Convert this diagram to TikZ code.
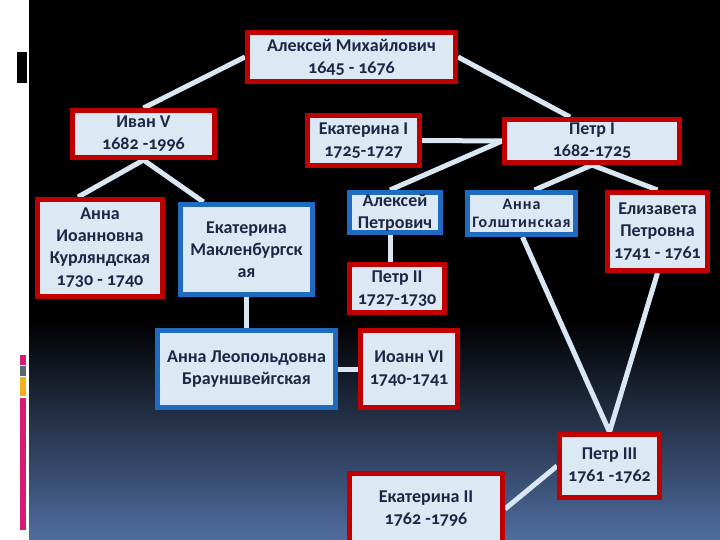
\documentclass[tikz,border=0pt]{standalone}
\usepackage{fontspec}
\setmainfont{Carlito}[Numbers=OldStyle]
\usetikzlibrary{backgrounds}
\definecolor{boxfill}{HTML}{DDE8F5}
\definecolor{redb}{HTML}{C00000}
\definecolor{blueb}{HTML}{1F6BBF}
\definecolor{txt}{HTML}{1A2745}
\definecolor{linkc}{HTML}{D9E6F4}
\definecolor{bgbot}{HTML}{4F6D9E}
\definecolor{barpink}{HTML}{D81B72}
\definecolor{bargray}{HTML}{5A6470}
\definecolor{baryellow}{HTML}{F2B21C}
\begin{document}
\begin{tikzpicture}[x=1pt,y=-1pt,
  person/.style={draw, line width=5pt, fill=boxfill, text=txt, align=center,
    inner sep=0pt, font=\fontsize{18}{22}\selectfont\bfseries},
  redbox/.style={person, draw=redb},
  bluebox/.style={person, draw=blueb},
  linkline/.style={draw=linkc, line width=5pt}]
\useasboundingbox (0,0) rectangle (720,540);
\clip (0,0) rectangle (720,540);
\begin{pgfonlayer}{background}
  \fill[white] (0,0) rectangle (29,540);
  \fill[black] (29,0) rectangle (720,322);
  \shade[top color=black, bottom color=bgbot] (29,321) rectangle (720,540);
  \fill[black] (17,52) rectangle (27,83);
  \fill[barpink] (20,355) rectangle (26,365);
  \fill[bargray] (20,366) rectangle (26,376);
  \fill[baryellow] (20,377) rectangle (26,396);
  \fill[barpink] (20,398) rectangle (26,530);
\end{pgfonlayer}

\node[redbox, minimum width=208, minimum height=49] (am) at (351.5,57) {Алексей Михайлович\\1645 - 1676};
\node[redbox, minimum width=142, minimum height=47] (ivan) at (143.5,134) {Иван V\\1682 -1996};
\node[redbox, minimum width=112, minimum height=50] (ek1) at (363.5,140.5) {Екатерина I\\1725-1727};
\node[redbox, minimum width=175, minimum height=43] (petr1) at (592,141) {Петр I\\1682-1725};
\node[redbox, minimum width=125, minimum height=97] (annai) at (100,248) {Анна\\Иоанновна\\Курляндская\\1730 - 1740};
\node[bluebox, minimum width=132, minimum height=90] (ekm) at (246.5,249.5) {Екатерина\\Макленбургск\\ая};
\node[bluebox, minimum width=91, minimum height=40] (alexp) at (395,212.5) {Алексей\\Петрович};
\node[redbox, minimum width=95, minimum height=48] (petr2) at (397,288.5) {Петр II\\1727-1730};
\node[bluebox, minimum width=108, minimum height=42, font=\fontsize{16}{18}\selectfont\bfseries\addfontfeature{LetterSpace=6}] (annag) at (521.5,213.5) {Анна\\Голштинская};
\node[redbox, minimum width=100, minimum height=78] (eliz) at (657.5,231.5) {Елизавета\\Петровна\\1741 - 1761};
\node[bluebox, minimum width=178, minimum height=77] (annal) at (246.5,369) {Анна Леопольдовна\\Брауншвейгская};
\node[redbox, minimum width=97, minimum height=77] (ioann) at (409,369) {Иоанн VI\\1740-1741};
\node[redbox, minimum width=100, minimum height=63] (petr3) at (609.5,466) {Петр III\\1761 -1762};
\node[redbox, minimum width=153, minimum height=72] (ek2) at (426,509) {Екатерина II\\1762 -1796};

\begin{pgfonlayer}{background}
  \draw[linkline] (ivan.north) -- (am.west);
  \draw[linkline] (am.east) -- ([xshift=-22pt]petr1.north);
  \draw[linkline] (ek1.east) -- (petr1.west);
  \draw[linkline] ([xshift=-5pt]alexp.north) -- (petr1.west);
  \draw[linkline] (ivan.south) -- ([xshift=-22pt]annai.north);
  \draw[linkline] (ivan.south) -- ([xshift=-43pt]ekm.north);
  \draw[linkline] (ekm.south) -- (annal.north);
  \draw[linkline] ([xshift=-5pt]alexp.south) -- ([xshift=-7pt]petr2.north);
  \draw[linkline] (annal.east) -- (ioann.west);
  \draw[linkline] (petr1.south) -- ([xshift=13pt]annag.north);
  \draw[linkline] (petr1.south) -- (eliz.north);
  \draw[linkline] ([xshift=1pt]annag.south) -- (petr3.north);
  \draw[linkline] (eliz.south) -- (petr3.north);
  \draw[linkline] (petr3.west) -- (ek2.east);
\end{pgfonlayer}
\end{tikzpicture}
\end{document}
